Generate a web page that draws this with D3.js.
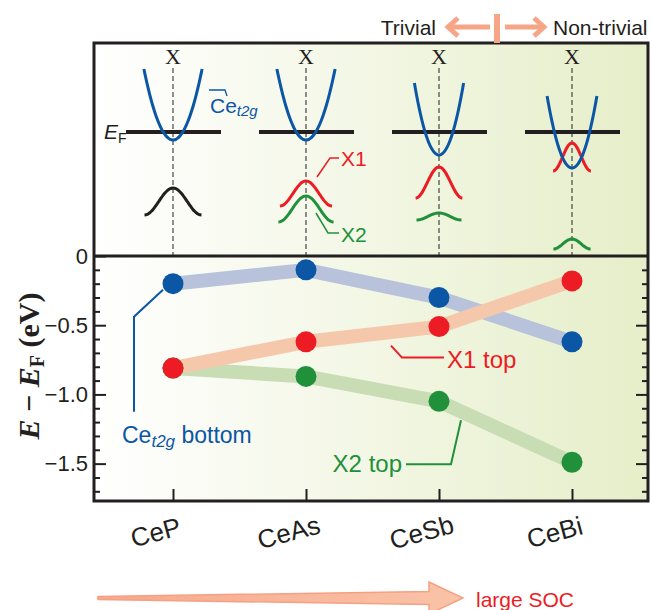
<!DOCTYPE html>
<html>
<head>
<meta charset="utf-8">
<title>CeX bands</title>
<script src="https://d3js.org/d3.v7.min.js"></script>
<style>
  body { margin: 0; background: #fff; }
  text { font-family: Arial, "Liberation Sans", Helvetica, sans-serif; fill: #231f20; }
</style>
</head>
<body>
<div id="chart"></div>
<script>
  let w = 652, h = 610;

  let compounds = ['CeP', 'CeAs', 'CeSb', 'CeBi'];
  // lower panel: band energies at X (eV)
  let t2gBottom = [-0.20, -0.10, -0.30, -0.62];
  let x1Top = [-0.81, -0.62, -0.51, -0.18];
  let x2Top = [-0.81, -0.87, -1.05, -1.49];
  let yTicks = [0, -0.5, -1.0, -1.5];

  // upper panel: schematic bands (arbitrary units, E_F = 0)
  let t2gVertex = [-0.08, -0.08, -0.23, -0.36];
  let t2gEdge = [0.63, 0.63, 0.49, 0.36];
  let t2gHalfK = [0.97, 0.97, 0.82, 0.83];
  let x1Peak = [-0.56, -0.49, -0.35, -0.11];
  let x1Edge = [-0.83, -0.74, -0.66, -0.39];
  let x1HalfK = [0.95, 0.87, 0.78, 0.63];
  let x2Peak = [null, -0.64, -0.81, -1.07];
  let x2Edge = [null, -0.90, -0.88, -1.17];
  let x2HalfK = [null, 0.92, 0.75, 0.62];

  let blue = '#0b56a5', red = '#ed1c24', green = '#21903b', ink = '#231f20';
  let peach = '#f6a587';

  let fL = 94, fR = 648, fT = 43, fM = 256, fB = 501;

  let xScale = d3.scalePoint().domain(compounds).range([173, 572]);
  let yScale = d3.scaleLinear().domain([0, -1.77]).range([fM, fB]);
  // schematic scales
  let yS = d3.scaleLinear().domain([0, -1]).range([132, 232]);
  let kS = d3.scaleLinear().domain([-1, 1]).range([-30, 30]);

  let svg = d3.select('#chart').append('svg')
              .attr('width', w).attr('height', h);

  let defs = svg.append('defs');
  let bg = defs.append('linearGradient').attr('id', 'bg')
               .attr('x1', '0').attr('x2', '1').attr('y1', '0').attr('y2', '0');
  bg.append('stop').attr('offset', '0').attr('stop-color', '#ffffff');
  bg.append('stop').attr('offset', '1').attr('stop-color', '#e6eec9');
  let ag = defs.append('linearGradient').attr('id', 'arrowfill')
               .attr('x1', '0').attr('x2', '1').attr('y1', '0').attr('y2', '0');
  ag.append('stop').attr('offset', '0').attr('stop-color', '#f7a98c');
  ag.append('stop').attr('offset', '1').attr('stop-color', '#f9c3a8');

  // background
  svg.append('rect')
     .attr('x', fL).attr('y', fT)
     .attr('width', fR - fL).attr('height', fB - fT)
     .attr('fill', 'url(#bg)');

  // ---------- upper panel (schematic) ----------
  let upper = svg.append('g');
  compounds.forEach((c, i) => {
    let cx = xScale(c);
    upper.append('line')
         .attr('x1', cx).attr('x2', cx).attr('y1', 68).attr('y2', fM)
         .attr('stroke', ink).attr('stroke-width', 1)
         .attr('stroke-dasharray', '5,3');
    upper.append('text')
         .attr('x', cx).attr('y', 64)
         .attr('text-anchor', 'middle')
         .style('font-family', '"Times New Roman", "Liberation Serif", serif')
         .style('font-size', '22px')
         .text('X');
    // E_F line
    upper.append('line')
         .attr('x1', cx - 47).attr('x2', cx + 48)
         .attr('y1', yS(0)).attr('y2', yS(0))
         .attr('stroke', ink).attr('stroke-width', 4);
  });

  let parab = (cx, v, e, hk) => d3.range(-1, 1.0001, 0.05)
      .map(t => [cx + kS(t * hk), yS(v + (e - v) * t * t)]);
  let bell = (cx, p, e, hk) => d3.range(-1, 1.0001, 0.05)
      .map(t => [cx + kS(t * hk), yS(e + (p - e) * (1 + Math.cos(Math.PI * t)) / 2)]);
  let curve = d3.line().curve(d3.curveCatmullRom);

  compounds.forEach((c, i) => {
    let cx = xScale(c);
    if (x2Peak[i] !== null) {
      upper.append('path').attr('d', curve(bell(cx, x2Peak[i], x2Edge[i], x2HalfK[i])))
           .attr('fill', 'none').attr('stroke', green).attr('stroke-width', 3);
    }
    upper.append('path').attr('d', curve(bell(cx, x1Peak[i], x1Edge[i], x1HalfK[i])))
         .attr('fill', 'none').attr('stroke', i === 0 ? ink : red).attr('stroke-width', 3);
    upper.append('path').attr('d', curve(parab(cx, t2gVertex[i], t2gEdge[i], t2gHalfK[i])))
         .attr('fill', 'none').attr('stroke', blue).attr('stroke-width', 3);
  });

  // E_F label
  let ef = upper.append('text').attr('x', 104).attr('y', yS(0) + 7)
                .style('font-size', '21px');
  ef.append('tspan').style('font-style', 'italic').text('E');
  ef.append('tspan').attr('dy', 4).style('font-size', '14px').text('F');

  // Ce t2g label (top)
  let c0 = xScale('CeP');
  upper.append('path')
       .attr('d', `M${c0 + 36},90 H${c0 + 52} L${c0 + 54},96`)
       .attr('fill', 'none').attr('stroke', blue).attr('stroke-width', 1.3);
  let ct = upper.append('text').attr('x', c0 + 37).attr('y', 113)
                .style('font-size', '21px').style('fill', blue);
  ct.append('tspan').text('Ce');
  ct.append('tspan').attr('dy', 3).style('font-size', '15px')
    .style('font-style', 'italic').text('t2g');

  // X1 / X2 labels (top)
  let c1 = xScale('CeAs');
  upper.append('path')
       .attr('d', `M${c1 + 11},${yS(x1Peak[1]) - 4} L${c1 + 24},158 H${c1 + 33}`)
       .attr('fill', 'none').attr('stroke', red).attr('stroke-width', 1.5);
  upper.append('text').attr('x', c1 + 35).attr('y', 166)
       .style('font-size', '21px').style('fill', red).text('X1');
  upper.append('path')
       .attr('d', `M${c1 + 10},213 L${c1 + 22},233 H${c1 + 33}`)
       .attr('fill', 'none').attr('stroke', green).attr('stroke-width', 1.5);
  upper.append('text').attr('x', c1 + 35).attr('y', 242)
       .style('font-size', '21px').style('fill', green).text('X2');

  // ---------- lower panel ----------
  let line = d3.line().x((d, i) => xScale(compounds[i])).y(d => yScale(d));
  let series = [
    { vals: t2gBottom, light: '#b8c3db', dark: blue },
    { vals: x2Top, light: '#c8ddb4', dark: green },
    { vals: x1Top, light: '#f6c8ab', dark: red }
  ];
  series.forEach(s => {
    svg.append('path').attr('d', line(s.vals))
       .attr('fill', 'none').attr('stroke', s.light)
       .attr('stroke-width', 14).attr('stroke-linejoin', 'round');
  });
  [series[1], series[2], series[0]].forEach(s => {
    svg.append('g').selectAll('circle')
       .data(s.vals).enter().append('circle')
       .attr('cx', (d, i) => xScale(compounds[i]))
       .attr('cy', d => yScale(d))
       .attr('r', 10.5)
       .attr('fill', s.dark);
  });

  // annotations lower
  let bx = xScale('CeP'), by = yScale(t2gBottom[0]);
  svg.append('path')
     .attr('d', `M${bx - 10},${by + 6} L${bx - 39},${by + 33} V${by + 128}`)
     .attr('fill', 'none').attr('stroke', blue).attr('stroke-width', 2);
  let tb = svg.append('text').attr('x', bx - 51).attr('y', by + 159)
              .style('font-size', '23px').style('fill', blue);
  tb.append('tspan').text('Ce');
  tb.append('tspan').attr('dy', 4).style('font-size', '17px')
    .style('font-style', 'italic').text('t2g');
  tb.append('tspan').attr('dy', -4).text(' bottom');

  let rx = xScale('CeSb'), ry = yScale(x1Top[2]);
  svg.append('path')
     .attr('d', `M${rx - 48},${ry + 19} L${rx - 37},${ry + 31} H${rx + 5}`)
     .attr('fill', 'none').attr('stroke', red).attr('stroke-width', 2);
  svg.append('text').attr('x', rx + 8).attr('y', ry + 41)
     .style('font-size', '24px').style('fill', red).text('X1 top');

  let gx = xScale('CeSb'), gy = yScale(x2Top[2]);
  svg.append('path')
     .attr('d', `M${gx + 22},${gy + 19} L${gx + 12},${gy + 63} H${gx - 33}`)
     .attr('fill', 'none').attr('stroke', green).attr('stroke-width', 2);
  svg.append('text').attr('x', gx - 37).attr('y', gy + 71)
     .attr('text-anchor', 'end')
     .style('font-size', '24px').style('fill', green).text('X2 top');

  // ---------- axes ----------
  let minor = d3.range(1, 18).map(i => -i / 10).filter(v => Math.round(v * 10) % 5 !== 0);
  let fmt = d => d === 0 ? '0' : d3.format('.1f')(d);

  let yl = svg.append('g').attr('transform', `translate(${fL},0)`)
              .call(d3.axisLeft(yScale).tickValues(yTicks).tickSize(-12)
                      .tickPadding(6).tickFormat(fmt));
  svg.append('g').attr('transform', `translate(${fL},0)`)
     .call(d3.axisLeft(yScale).tickValues(minor).tickSize(-6).tickFormat(''));
  svg.append('g').attr('transform', `translate(${fR},0)`)
     .call(d3.axisRight(yScale).tickValues(yTicks.slice(1)).tickSize(-12).tickFormat(''));
  svg.append('g').attr('transform', `translate(${fR},0)`)
     .call(d3.axisRight(yScale).tickValues(minor).tickSize(-6).tickFormat(''));
  svg.append('g').attr('transform', `translate(0,${fB})`)
     .call(d3.axisBottom(xScale).tickSize(-12).tickFormat(''));
  svg.selectAll('.domain').remove();
  svg.selectAll('.tick line').attr('stroke', ink).attr('stroke-width', 2);
  yl.selectAll('text').style('font-size', '22px').style('fill', ink)
    .style('font-family', 'Arial, "Liberation Sans", sans-serif');

  // x labels, tilted
  svg.append('g').selectAll('text')
     .data(compounds).enter().append('text')
     .attr('transform', d => `translate(${xScale(d) - 15},541) rotate(-15)`)
     .attr('text-anchor', 'middle')
     .style('font-size', '26px')
     .text(d => d);

  // frame
  svg.append('rect')
     .attr('x', fL).attr('y', fT)
     .attr('width', fR - fL).attr('height', fB - fT)
     .attr('fill', 'none').attr('stroke', ink).attr('stroke-width', 3);
  svg.append('line')
     .attr('x1', fL).attr('x2', fR).attr('y1', fM).attr('y2', fM)
     .attr('stroke', ink).attr('stroke-width', 3);

  // y label
  let ylab = svg.append('text')
     .attr('transform', `translate(39,366) rotate(-90)`)
     .attr('text-anchor', 'middle')
     .style('font-family', '"Times New Roman", "Liberation Serif", serif')
     .style('font-weight', 'bold').style('font-size', '30px');
  ylab.append('tspan').style('font-style', 'italic').text('E');
  ylab.append('tspan').text(' \u2212 ');
  ylab.append('tspan').style('font-style', 'italic').text('E');
  ylab.append('tspan').attr('dy', 5).style('font-size', '20px').text('F');
  ylab.append('tspan').attr('dy', -5).text(' (eV)');

  // ---------- top arrows ----------
  let ay = 27;
  let ta = svg.append('g').attr('stroke', peach).attr('stroke-width', 5)
              .attr('fill', 'none');
  ta.append('line').attr('x1', 490).attr('x2', 449).attr('y1', ay).attr('y2', ay);
  ta.append('polyline').attr('points', `458,${ay - 9} 448,${ay} 458,${ay + 9}`);
  ta.append('line').attr('x1', 497).attr('x2', 497).attr('y1', 14).attr('y2', fT)
    .attr('stroke-width', 6);
  ta.append('line').attr('x1', 505).attr('x2', 543).attr('y1', ay).attr('y2', ay);
  ta.append('polyline').attr('points', `534,${ay - 9} 544,${ay} 534,${ay + 9}`);
  svg.append('text').attr('x', 436).attr('y', 35).attr('text-anchor', 'end')
     .style('font-size', '21px').text('Trivial');
  svg.append('text').attr('x', 553).attr('y', 35)
     .style('font-size', '21px').text('Non-trivial');

  // ---------- bottom SOC arrow ----------
  let sy = 598;
  svg.append('polygon')
     .attr('points', [[98, sy - 1.5], [429, sy - 6.5], [429, sy - 16], [463, sy],
                      [429, sy + 16], [429, sy + 6.5], [98, sy + 1.5]].join(' '))
     .attr('fill', 'url(#arrowfill)').attr('stroke', '#f6a083').attr('stroke-width', 1.5);
  svg.append('text').attr('x', 476).attr('y', 607)
     .style('font-size', '21px').style('fill', red).text('large SOC');
</script>
</body>
</html>
